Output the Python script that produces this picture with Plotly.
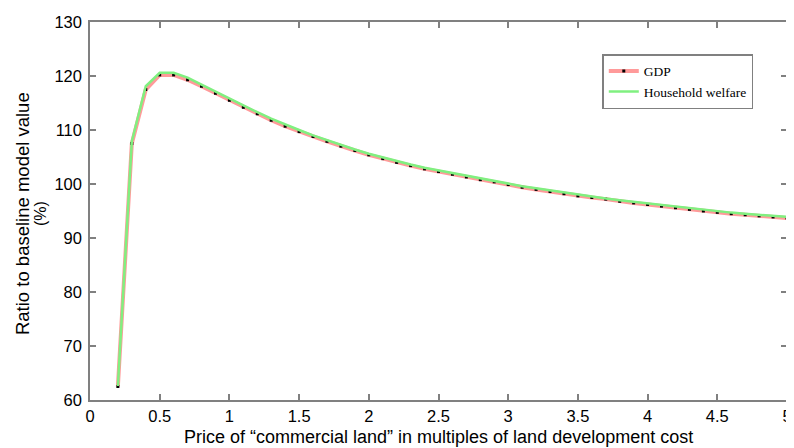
import plotly.graph_objects as go

price = [0.2, 0.3, 0.4, 0.5, 0.6, 0.7, 0.8, 0.9, 1.0, 1.1, 1.2, 1.3, 1.4, 1.5, 1.6, 1.7, 1.8, 1.9,
         2.0, 2.1, 2.2, 2.3, 2.4, 2.5, 2.6, 2.7, 2.8, 2.9, 3.0, 3.1, 3.2, 3.3, 3.4, 3.5, 3.6, 3.7,
         3.8, 3.9, 4.0, 4.1, 4.2, 4.3, 4.4, 4.5, 4.6, 4.7, 4.8, 4.9, 5.0]
gdp = [62.5, 107.5, 117.5, 120.2, 120.2, 119.3, 118.1, 116.8, 115.5, 114.2, 113.0, 111.8, 110.7,
       109.7, 108.8, 107.9, 107.0, 106.2, 105.4, 104.7, 104.0, 103.4, 102.8, 102.3, 101.8, 101.3,
       100.8, 100.4, 99.9, 99.4, 99.0, 98.6, 98.2, 97.8, 97.5, 97.2, 96.8, 96.5, 96.2, 95.9, 95.6,
       95.3, 95.0, 94.75, 94.5, 94.3, 94.1, 93.9, 93.7]
welfare = [62.6, 107.9, 118.1, 120.6, 120.6, 119.7, 118.4, 117.1, 115.8, 114.5, 113.3, 112.1, 111.0,
           110.0, 109.0, 108.1, 107.2, 106.4, 105.6, 104.9, 104.2, 103.6, 103.0, 102.5, 102.0, 101.5,
           101.0, 100.6, 100.1, 99.6, 99.2, 98.8, 98.4, 98.0, 97.7, 97.3, 97.0, 96.7, 96.4, 96.1, 95.8,
           95.5, 95.2, 94.9, 94.7, 94.5, 94.3, 94.1, 93.9]

x_ticks = [0, 0.5, 1, 1.5, 2, 2.5, 3, 3.5, 4, 4.5, 5]
x_tick_labels = ["0", "0.5", "1", "1.5", "2", "2.5", "3", "3.5", "4", "4.5", "5"]
y_ticks = [60, 70, 80, 90, 100, 110, 120, 130]

x_title = "Price of “commercial land” in multiples of land development cost"
y_title_line1 = "Ratio to baseline model value"
y_title_line2 = "(%)"

SANS = "Arial, Liberation Sans, sans-serif"

fig = go.Figure()
fig.add_trace(go.Scatter(
    x=price, y=gdp, name="GDP", mode="lines+markers",
    line=dict(color="#ff9a9a", width=4),
    marker=dict(color="black", size=3, symbol="square"),
))
fig.add_trace(go.Scatter(
    x=price, y=welfare, name="Household welfare", mode="lines",
    line=dict(color="#80f080", width=2.5),
))

axis_common = dict(
    showline=True, linecolor="#808080", linewidth=1.5, mirror="ticks",
    ticks="inside", ticklen=6, tickcolor="#808080", tickwidth=1.5,
    showgrid=False, zeroline=False, automargin=False,
    tickfont=dict(family=SANS, size=16.5, color="black"),
)

# The page body has a default 8px margin, so the figure is sized/offset to compensate.
fig.update_layout(
    width=786, height=440,
    margin=dict(l=82, r=7, t=14, b=48),
    paper_bgcolor="white", plot_bgcolor="white",
    showlegend=True,
    legend=dict(
        x=0.735, y=0.915, xanchor="left", yanchor="top",
        bgcolor="white", bordercolor="#808080", borderwidth=1.5,
        font=dict(family="Liberation Serif, Times New Roman, serif", size=13.5, color="black"),
        tracegroupgap=0, itemwidth=30,
    ),
    xaxis=dict(range=[0, 5], tickvals=x_ticks, ticktext=x_tick_labels,
               ticklabelstandoff=0, **axis_common),
    yaxis=dict(range=[60, 130], tickvals=y_ticks, ticklabelstandoff=3, **axis_common),
    annotations=[
        dict(text=x_title, xref="paper", yref="paper", x=0.5, y=0, yshift=-48,
             xanchor="center", yanchor="bottom", showarrow=False, borderpad=0,
             font=dict(family=SANS, size=18, color="black")),
        dict(text=y_title_line1, xref="paper", yref="paper", x=0, y=0.492, xshift=-68,
             xanchor="center", yanchor="middle", textangle=-90, showarrow=False,
             font=dict(family=SANS, size=18.5, color="black")),
        dict(text=y_title_line2, xref="paper", yref="paper", x=0, y=0.492, xshift=-50,
             xanchor="center", yanchor="middle", textangle=-90, showarrow=False,
             font=dict(family=SANS, size=16, color="black")),
    ],
)

fig.write_html("out.html")
